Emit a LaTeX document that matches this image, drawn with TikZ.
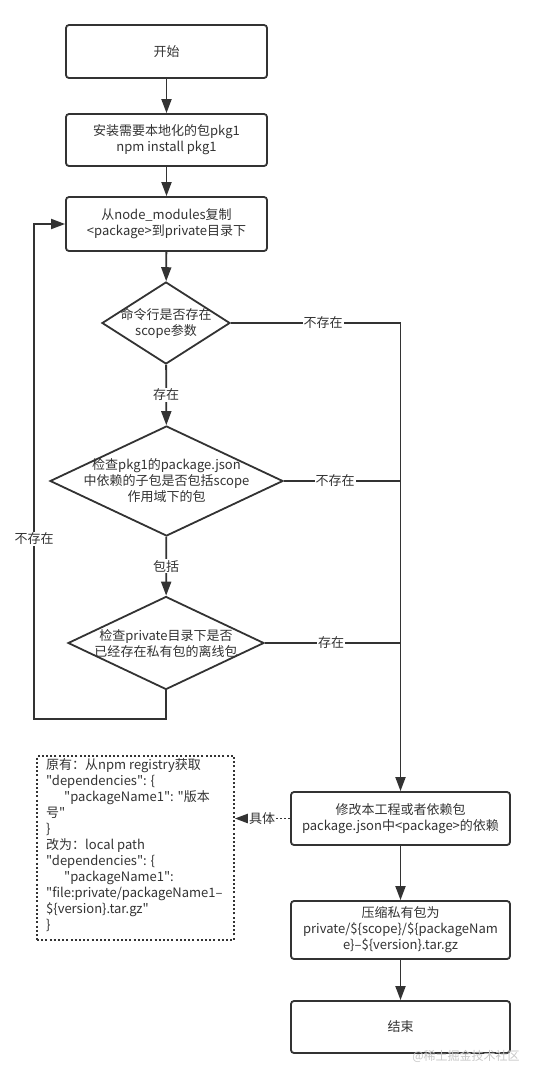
\documentclass[tikz,border=0pt]{standalone}
\usepackage{fontspec}
\setmainfont{Noto Sans CJK SC}[Ligatures=TeXOff]
\usetikzlibrary{shapes.geometric,arrows.meta}
\definecolor{ln}{HTML}{333333}
\definecolor{wm}{HTML}{C8C8C8}
\begin{document}
\begin{tikzpicture}[x=1bp,y=-1bp,
  every node/.style={font=\fontsize{13bp}{16bp}\selectfont, text=ln},
  box/.style={draw=ln, line width=1.8bp, rounded corners=3bp, fill=white, minimum width=201bp, minimum height=53bp, align=center, inner sep=0pt},
  dia/.style={draw=ln, line width=1.8bp, diamond, inner sep=0pt, fill=white},
  flow/.style={draw=ln, line width=1.8bp, -{Triangle[length=14bp,width=10bp]}},
  plain/.style={draw=ln, line width=1.8bp},
  lab/.style={fill=white, inner sep=1bp},
  dots/.style={draw=ln, line width=1.8bp, dash pattern=on 2bp off 2.2bp},
]
\fill[white] (0,0) rectangle (534,1078);
\useasboundingbox (0,0) rectangle (534,1078);

\node[box, minimum height=53bp] (b1) at (166.5,51.5) {开始};
\node[box, minimum height=52bp] (b2) at (166.5,140) {安装需要本地化的包pkg1\\npm install pkg1};
\node[box, minimum height=54bp] (b3) at (166.5,224) {从node\_modules复制\\<package>到private目录下};

\node[dia, minimum width=128bp, minimum height=82bp] (d1) at (166,323) {};
\node[align=center] (t1) at (d1) {命令行是否存在\\scope参数};
\node[dia, minimum width=233bp, minimum height=110bp] (d2) at (166.5,481) {};
\node[align=center] (t2) at (d2) {检查pkg1的package.json\\中依赖的子包是否包括scope\\作用域下的包};
\node[dia, minimum width=196bp, minimum height=93bp] (d3) at (166,643) {};
\node[align=center] (t3) at (d3) {检查private目录下是否\\已经存在私有包的离线包};

\node[box, minimum width=219bp, minimum height=53bp] (b4) at (400.5,818.5) {修改本工程或者依赖包\\package.json中<package>的依赖};
\node[box, minimum width=219bp, minimum height=58bp] (b5) at (400.5,930) {压缩私有包为\\private/\$\{scope\}/\$\{packageNam\\e\}–\$\{version\}.tar.gz};
\node[box, minimum width=219bp, minimum height=52bp] (b6) at (400.5,1027) {结束};

\node[dots, minimum width=197bp, minimum height=184bp, inner sep=0pt] (note) at (135.5,848) {};
\node[anchor=north west, align=left, inner sep=0pt] (nt) at (46,758) {原有：从npm registry获取\\
"dependencies": \{\\
\hspace*{18bp}"packageName1": "版本\\
号"\\
\}\\
改为：local path\\
"dependencies": \{\\
\hspace*{18bp}"packageName1":\\
"file:private/packageName1–\\
\$\{version\}.tar.gz"\\
\}};

\draw[flow] (b1) -- (b2);
\draw[flow] (b2) -- (b3);
\draw[flow] (b3) -- (d1);
\draw[flow] (d1) -- node[lab] (l1) {存在} (d2);
\draw[flow] (d2) -- node[lab] (l2) {包括} (d3);
\draw[flow] (b4) -- (b5);
\draw[flow] (b5) -- (b6);

\draw[flow] (d1.east) -| (b4.north);
\draw[plain] (d2.east) -- (d2.east -| b4.north);
\draw[plain] (d3.east) -- (d3.east -| b4.north);
\node[lab] (l3) at (323,323) {不存在};
\node[lab] (l4) at (335,481) {不存在};
\node[lab] (l5) at (331,643) {存在};

\coordinate (lb) at (34,719);
\draw[flow] (d3.south) |- (lb) |- (b3.west);
\node[lab] (l6) at (34,539) {不存在};

\draw[dots, -{Triangle[length=14bp,width=10bp]}] (b4.west) -- (b4.west -| note.east);
\node[lab] (l7) at (262,819) {具体};

\node[text=wm, font=\fontsize{12bp}{14bp}\selectfont] (wmk) at (466,1056) {@稀土掘金技术社区};
\end{tikzpicture}
\end{document}
